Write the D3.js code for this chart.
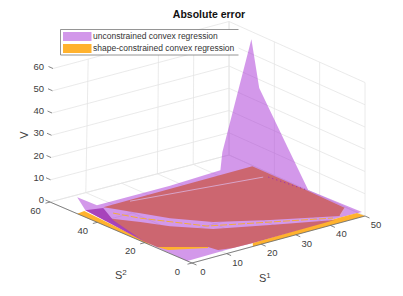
<!DOCTYPE html>
<html>
<head>
<meta charset="utf-8">
<script src="https://cdn.jsdelivr.net/npm/d3@7"></script>
<style>
  html, body { margin: 0; padding: 0; background: #fff; }
  svg { display: block; }
  text { font-family: "Liberation Sans", Arial, sans-serif; }
</style>
</head>
<body>
<div id="chart"></div>
<script>
const width = 403, height = 296;

const s1Ticks = [0, 10, 20, 30, 40, 50],
      s2Ticks = [0, 20, 40, 60],
      vTicks = [0, 10, 20, 30, 40, 50, 60],
      s1WallLines = [10, 30, 40, 50];  // the reference shows no wall line at 0 or 20

const seriesNames = ['unconstrained convex regression', 'shape-constrained convex regression'];

// [S1, S2, V]
const unconstrained = [
  [0, 48.5, 7.3], [7, 50.4, 0], [28, 50.2, 0], [43.3, 51.3, 0], [41.6, 48, 10.1],
  [50, 48, 56.6], [50, 44.7, 36.5], [50, 32.1, 14.7], [50, 24, 0.7], [50, 1.3, 1.2],
  [44.4, 3.2, 0], [19, 2.1, 0], [13.4, 2.3, 0], [0, 2, 0], [0.2, 14.6, 0], [0.8, 21.8, 0], [2.9, 49.3, 0]
];
const constrainedLeft = [[0, 48.5, 0], [2.3, 48.9, 0], [0.8, 21.8, 0], [0, 16.9, 0]];
const constrainedRight = [[17.6, 0, 0], [50, 0, 0], [49.8, 3.1, 0], [44.4, 3.2, 0], [19, 2.1, 0]];
const constrainedFront = [[0.4, 15.3, 0], [9.8, 7.6, 0], [9, 6.4, 0], [1.1, 11.7, 0]];
const overlapUpper = [
  [7.3, 48.2, 0], [50.6, 48.5, 0], [50.2, 24.3, 0], [49.8, 8.1, 0], [45.6, 4.1, 0],
  [31.5, 13.1, 0], [20.6, 21.2, 0], [14.6, 30.6, 0], [11.4, 38.5, 0], [8.1, 46.4, 0]
];
const overlapLower = [
  [3.5, 40.9, 0], [7.7, 33.1, 0], [11.3, 25.8, 0], [17.7, 17, 0], [29.5, 10.1, 0], [43, 2.5, 0],
  [19, 2.1, 0], [13.4, 2.3, 0], [10, 3.6, 0], [9.4, 7, 0], [0.4, 15.3, 0], [0.3, 20.3, 0]
];
const overlapDark = [[2.9, 49.3, 0], [6.9, 47.6, 0], [3.7, 38.7, 0], [0.3, 20.3, 0]];
const ridgeOrange = [[6.6, 43, 0], [9.3, 35.5, 0], [17.9, 19.8, 0], [30.7, 11.9, 0], [43.5, 4, 0]];
const ridgeLight = [[14.5, 47.4, 0], [48, 40.1, 0]];
const ridgeDotted = [[48.9, 39.3, 0], [50.4, 25.1, 0]];
const ridgeEnd = [[45.6, 4.1, 0], [49.8, 8.1, 0]];

const svg = d3.select('#chart').append('svg')
    .attr('width', width)
    .attr('height', height);

// surface projection, nearly orthographic
const dxS1 = d3.scaleLinear().domain([0, 50]).range([0, 173]),
      dyS1 = d3.scaleLinear().domain([0, 50]).range([0, -47]),
      dxS2 = d3.scaleLinear().domain([0, 60]).range([0, -142]),
      dyS2 = d3.scaleLinear().domain([0, 60]).range([0, -61]),
      dyV = d3.scaleLinear().domain([0, 60]).range([0, -135.6]);

const project = d => [192 + dxS1(d[0]) + dxS2(d[1]), 263 + dyS1(d[0]) + dyS2(d[1]) + dyV(d[2])];

// box corners are a little off the parallel, so the box gets its own mapping
const frontX = d3.scaleLinear().domain([0, 50]).range([192, 365]),
      frontY = d3.scaleLinear().domain([0, 50]).range([263, 216]),
      backX = d3.scaleLinear().domain([0, 50]).range([50, 229]),
      backY = d3.scaleLinear().domain([0, 50]).range([202, 155]),
      wallV = d3.scaleLinear().domain([0, 60]).range([0, -133.5]),
      leanX = d3.scaleLinear().domain([0, 60]).range([0, 3]);

const boxPoint = (s1, s2, v) => {
  const t = s2 / 60;
  return [
    frontX(s1) + (backX(s1) - frontX(s1)) * t + leanX(v) * (1 - s1 / 50) * t,
    frontY(s1) + (backY(s1) - frontY(s1)) * t + wallV(v)
  ];
};

const line = d3.line();
const closed = d3.line().curve(d3.curveLinearClosed);

const grid = svg.append('g')
    .attr('fill', 'none')
    .attr('stroke', '#e4e4e4')
    .attr('stroke-width', 0.8);

s1Ticks.forEach(t => {
  grid.append('path').attr('d', line([boxPoint(t, 0, 0), boxPoint(t, 60, 0)]));
});
s1WallLines.forEach(t => {
  grid.append('path').attr('d', line([boxPoint(t, 60, 0), boxPoint(t, 60, 60)]));
});
s2Ticks.forEach(t => {
  grid.append('path').attr('d', line([boxPoint(0, t, 0), boxPoint(50, t, 0), boxPoint(50, t, 60)]));
});
vTicks.forEach(t => {
  grid.append('path').attr('d', line([boxPoint(0, 60, t), boxPoint(50, 60, t), boxPoint(50, 0, t)]));
});

const surfaces = svg.append('g');

const addPoly = (pts, fill, opacity) => surfaces.append('path')
    .attr('d', closed(pts.map(project)))
    .attr('fill', fill)
    .attr('fill-opacity', opacity);

addPoly(unconstrained, '#a832d6', 0.5);
addPoly(constrainedLeft, '#ffb22e', 1);
addPoly(constrainedRight, '#ffb22e', 1);
addPoly(constrainedFront, '#ffb22e', 1);
addPoly(overlapUpper, '#cc6670', 1);
addPoly(overlapLower, '#cc6670', 1);
addPoly(overlapDark, '#a43eb8', 0.95);

const addLine = (pts, color, w, dash) => surfaces.append('path')
    .attr('d', line(pts.map(project)))
    .attr('fill', 'none')
    .attr('stroke', color)
    .attr('stroke-width', w)
    .attr('stroke-dasharray', dash);

addLine(ridgeOrange, '#f2ab3c', 1, '7 2');
addLine(ridgeLight, '#d9a3c8', 1);
addLine(ridgeDotted, '#a030b0', 1, '1.2 3');
addLine(ridgeEnd, '#d9a0d8', 1.4);

// axes
const axes = svg.append('g')
    .attr('fill', 'none')
    .attr('stroke', '#666')
    .attr('stroke-width', 0.8);

axes.append('path').attr('d', line([boxPoint(0, 60, 0), boxPoint(0, 0, 0), boxPoint(50, 0, 0)]));

s1Ticks.forEach(t => {
  const p = boxPoint(t, 0, 0);
  axes.append('path').attr('d', line([p, [p[0] + 4.5, p[1] + 2]]));
});
s2Ticks.forEach(t => {
  const p = boxPoint(0, t, 0);
  axes.append('path').attr('d', line([p, [p[0] - 4.5, p[1] + 1.2]]));
});
vTicks.forEach(t => {
  const p = boxPoint(0, 60, t);
  axes.append('path').attr('d', line([p, [p[0] - 4.5, p[1] - 2]]));
});

const labels = svg.append('g')
    .attr('fill', '#404040')
    .attr('font-size', '9.5px')
    .attr('text-anchor', 'middle')
    .attr('dominant-baseline', 'middle');

s1Ticks.forEach(t => {
  const p = boxPoint(t, 0, 0);
  labels.append('text').attr('x', p[0] + 11).attr('y', p[1] + 9.5).text(t);
});
s2Ticks.forEach(t => {
  const p = boxPoint(0, t, 0);
  labels.append('text').attr('x', p[0] - 14.5).attr('y', p[1] + 9).text(t);
});
vTicks.forEach(t => {
  const p = boxPoint(0, 60, t);
  labels.append('text').attr('x', 44).attr('y', p[1] - 1.5).attr('text-anchor', 'end').text(t);
});

const addSup = (x, y, sup) => {
  const label = svg.append('text')
      .attr('x', x)
      .attr('y', y)
      .attr('fill', '#404040')
      .attr('font-size', '11px');
  label.append('tspan').text('S');
  label.append('tspan').attr('dy', -4).attr('font-size', '8px').text(sup);
};
addSup(115, 279, '2');
addSup(259, 282, '1');

svg.append('text')
    .attr('transform', 'translate(28,135) rotate(-90)')
    .attr('text-anchor', 'middle')
    .attr('fill', '#404040')
    .attr('font-size', '11px')
    .text('V');

svg.append('text')
    .attr('x', 209)
    .attr('y', 18)
    .attr('text-anchor', 'middle')
    .attr('fill', '#111')
    .attr('font-size', '10.5px')
    .attr('font-weight', 'bold')
    .text('Absolute error');

// legend
const legend = svg.append('g');

legend.append('rect')
    .attr('x', 60.5).attr('y', 29.5)
    .attr('width', 178).attr('height', 25.5)
    .attr('fill', '#fff');

legend.append('path')
    .attr('d', 'M238.5,29.5H60.5V55H238.5')
    .attr('fill', 'none')
    .attr('stroke', '#7a7a7a')
    .attr('stroke-width', 0.8);

const legendColors = ['#d298ea', '#ffb22e'];

seriesNames.forEach((name, i) => {
  legend.append('rect')
      .attr('x', 63).attr('y', 32 + i * 12)
      .attr('width', 28.5).attr('height', 9)
      .attr('fill', legendColors[i]);
  legend.append('text')
      .attr('x', 93).attr('y', 37 + i * 11.7)
      .attr('dominant-baseline', 'middle')
      .attr('fill', '#333')
      .attr('font-size', '8.5px')
      .text(name);
});
</script>
</body>
</html>
